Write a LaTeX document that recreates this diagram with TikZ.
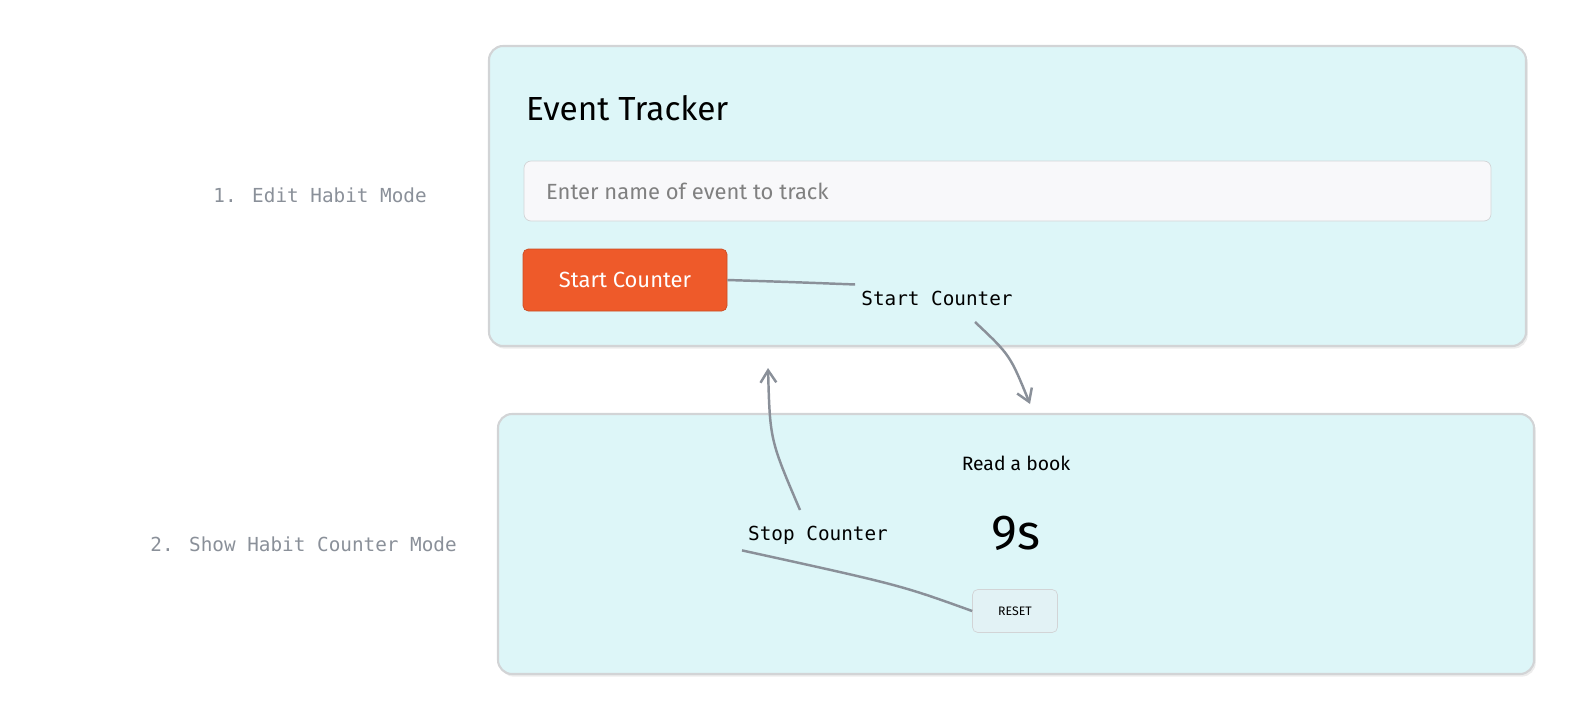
\documentclass[tikz,border=0pt]{standalone}
\usepackage{fontspec}
\setmainfont{Fira Sans}
\newfontfamily\handfont{DejaVu Sans Mono}
\usetikzlibrary{arrows.meta, positioning, calc, shadows}
\definecolor{panelfill}{HTML}{DDF6F8}
\definecolor{panelline}{HTML}{D2D4D6}
\definecolor{inputfill}{HTML}{F8F8FA}
\definecolor{btnfill}{HTML}{EE5A2A}
\definecolor{resetfill}{HTML}{E2F2F5}
\definecolor{note}{HTML}{8A9099}

\begin{document}
\begin{tikzpicture}[x=0.02cm, y=-0.02cm,
        panel/.style={draw=panelline, line width=1.2pt, fill=panelfill, rounded corners=8pt, drop shadow={opacity=0.15, shadow xshift=1pt, shadow yshift=-1.5pt}},
        field/.style={draw=panelline, fill=inputfill, rounded corners=4pt},
        hand/.style={font=\handfont\fontsize{11}{13}\selectfont, text=note},
        notearrow/.style={draw=note, line width=1.4pt, -{Straight Barb[length=7pt, width=9pt]}},
        noteline/.style={draw=note, line width=1.4pt}
    ]
        \useasboundingbox (0,0) rectangle (1584,724);

        % edit mode panel
        \filldraw[panel] (489,46) rectangle (1526,346);
        \node[anchor=west, font=\fontsize{19}{22}\selectfont] (title) at (520,108) {Event Tracker};
        \filldraw[field] (524,161) rectangle (1491,221);
        \node[anchor=west, text=gray, font=\fontsize{12.5}{15}\selectfont] (hint) at (540,191) {Enter name of event to track};
        \node[fill=btnfill, draw=btnfill!85!black, rounded corners=3pt, text=white, minimum width=204*0.02cm, minimum height=62*0.02cm, font=\fontsize{12.5}{15}\selectfont] (start) at (625,280) {Start Counter};

        % counter mode panel
        \filldraw[panel] (498,414) rectangle (1534,674);
        \node[font=\fontsize{11}{13}\selectfont] (habit) at (1016,463) {Read a book};
        \node[font=\fontsize{28}{32}\selectfont] (count) at (1016,533) {9s};
        \node[fill=resetfill, draw=panelline, rounded corners=3pt, minimum width=85*0.02cm, minimum height=43*0.02cm, font=\fontsize{7}{8}\selectfont] (reset) at (1015,611) {RESET};

        % notes
        \node[hand, anchor=east] (mode1) at (433,195) {1. Edit Habit Mode};
        \node[hand, anchor=east] (mode2) at (463,544) {2. Show Habit Counter Mode};
        \node[hand, text=black] (startnote) at (937,298) {Start Counter};
        \node[hand, text=black] (stopnote) at (818,535) {Stop Counter};
        \coordinate (down) at (1030,404);
        \coordinate (up) at (768,368);

        \draw[noteline] (start.east) .. controls (790,282) .. (startnote.north west);
        \draw[notearrow] (975,322) .. controls (1010,355) .. (down);
        \draw[notearrow] (800,510) .. controls (770,440) .. (up);
        \draw[noteline] (reset.west) .. controls (900,585) .. (stopnote.south west);
    \end{tikzpicture}
\end{document}
